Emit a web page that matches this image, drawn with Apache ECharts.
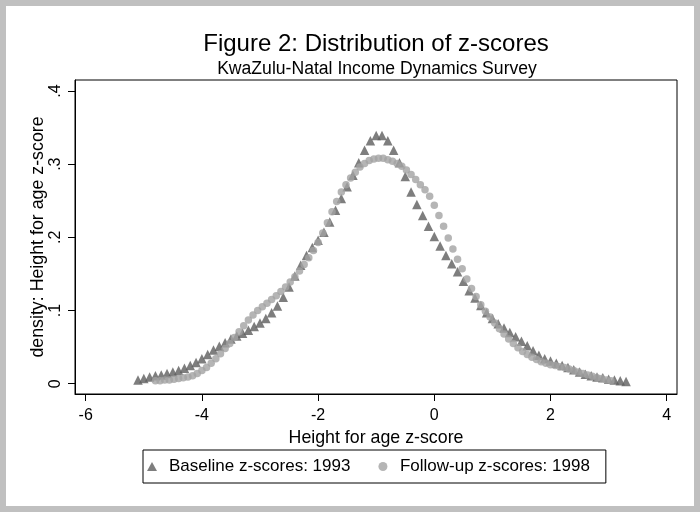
<!DOCTYPE html>
<html>
<head>
<meta charset="utf-8">
<script src="https://cdn.jsdelivr.net/npm/echarts@6/dist/echarts.min.js"></script>
<style>html,body{margin:0;padding:0;background:#fff;}#c{width:700px;height:512px;}</style>
</head>
<body>
<div id="c"></div>
<script>
// ---- data ----
var titleText = 'Figure 2: Distribution of z-scores';
var subtitleText = 'KwaZulu-Natal Income Dynamics Survey';
var xTitle = 'Height for age z-score';
var yTitle = 'density: Height for age z-score';
var seriesNames = ['Baseline z-scores: 1993', 'Follow-up z-scores: 1998'];
var xTicks = [-6, -4, -2, 0, 2, 4];
var yTicks = [0, 0.1, 0.2, 0.3, 0.4];
var yTickLabels = ['0', '.1', '.2', '.3', '.4'];

var baseX = [-5.1,-5.0,-4.9,-4.8,-4.7,-4.6,-4.5,-4.4,-4.3,-4.2,
-4.1,-4.0,-3.9,-3.8,-3.7,-3.6,-3.5,-3.4,-3.3,-3.2,
-3.1,-3.0,-2.9,-2.8,-2.7,-2.6,-2.5,-2.4,-2.3,-2.2,
-2.1,-2.0,-1.9,-1.8,-1.7,-1.6,-1.5,-1.4,-1.3,-1.2,
-1.1,-1.0,-0.9,-0.8,-0.7,-0.6,-0.5,-0.4,-0.3,-0.2,
-0.1,0.0,0.1,0.2,0.3,0.4,0.5,0.6,0.7,0.8,
0.9,1.0,1.1,1.2,1.3,1.4,1.5,1.6,1.7,1.8,
1.9,2.0,2.1,2.2,2.3,2.4,2.5,2.6,2.7,2.8,
2.9,3.0,3.1,3.2,3.3];
var baseY = [0.005,0.007,0.009,0.011,0.012,0.014,0.016,0.018,0.021,0.025,
0.029,0.034,0.040,0.046,0.051,0.056,0.061,0.065,0.069,0.073,
0.078,0.083,0.089,0.097,0.106,0.118,0.132,0.147,0.162,0.175,
0.186,0.196,0.207,0.221,0.237,0.253,0.269,0.285,0.302,0.319,
0.332,0.339,0.339,0.332,0.319,0.302,0.283,0.262,0.245,0.230,
0.215,0.201,0.188,0.175,0.164,0.153,0.140,0.127,0.117,0.107,
0.097,0.089,0.082,0.076,0.070,0.064,0.058,0.052,0.045,0.039,
0.034,0.031,0.028,0.025,0.022,0.019,0.016,0.013,0.011,0.009,
0.008,0.006,0.005,0.004,0.003];

var followX = [-4.80,-4.72,-4.64,-4.56,-4.48,-4.40,-4.32,-4.24,-4.16,-4.08,
-4.00,-3.92,-3.84,-3.76,-3.68,-3.60,-3.52,-3.44,-3.36,-3.28,
-3.20,-3.12,-3.04,-2.96,-2.88,-2.80,-2.72,-2.64,-2.56,-2.48,
-2.40,-2.32,-2.24,-2.16,-2.08,-2.00,-1.92,-1.84,-1.76,-1.68,
-1.60,-1.52,-1.44,-1.36,-1.28,-1.20,-1.12,-1.04,-0.96,-0.88,
-0.80,-0.72,-0.64,-0.56,-0.48,-0.40,-0.32,-0.24,-0.16,-0.08,
0.00,0.08,0.16,0.24,0.32,0.40,0.48,0.56,0.64,0.72,
0.80,0.88,0.96,1.04,1.12,1.20,1.28,1.36,1.44,1.52,
1.60,1.68,1.76,1.84,1.92,2.00,2.08,2.16,2.24,2.32,
2.40,2.48,2.56,2.64,2.72,2.80,2.88,2.96,3.04];
var followY = [0.004,0.004,0.005,0.005,0.006,0.007,0.008,0.009,0.011,0.014,
0.018,0.022,0.028,0.034,0.041,0.048,0.055,0.063,0.071,0.079,
0.087,0.094,0.100,0.105,0.110,0.115,0.120,0.126,0.132,0.139,
0.146,0.154,0.163,0.172,0.182,0.193,0.206,0.220,0.235,0.249,
0.262,0.272,0.281,0.289,0.296,0.301,0.305,0.307,0.308,0.308,
0.306,0.304,0.301,0.297,0.292,0.286,0.279,0.272,0.265,0.256,
0.244,0.230,0.215,0.199,0.184,0.170,0.157,0.143,0.130,0.119,
0.108,0.099,0.091,0.083,0.075,0.068,0.061,0.055,0.049,0.044,
0.040,0.036,0.033,0.030,0.028,0.026,0.025,0.023,0.022,0.020,
0.018,0.016,0.014,0.012,0.010,0.008,0.007,0.005,0.004];

// ---- chart ----
function pairs(xs, ys) { return xs.map(function (x, i) { return [x, ys[i]]; }); }
var FONT = '"Liberation Sans", Arial, Helvetica, sans-serif';
var chart = echarts.init(document.getElementById('c'), null, { renderer: 'canvas' });
chart.setOption({
  animation: false,
  backgroundColor: '#ffffff',
  textStyle: { fontFamily: FONT, color: '#000' },
  graphic: [{
    type: 'rect', silent: true, z: 100,
    shape: { x: 3, y: 3, width: 694, height: 506 },
    style: { fill: 'none', stroke: '#c0c0c0', lineWidth: 6 }
  }],
  title: [
    { text: titleText, left: 376, top: 32, textAlign: 'center', padding: 0,
      textStyle: { fontFamily: FONT, fontSize: 24, fontWeight: 'normal', color: '#000' } },
    { text: subtitleText, left: 377, top: 60, textAlign: 'center', padding: 0,
      textStyle: { fontFamily: FONT, fontSize: 17.6, fontWeight: 'normal', color: '#000' } }
  ],
  grid: { left: 75, top: 80, width: 602, height: 314, show: true,
          borderColor: '#000', borderWidth: 1, backgroundColor: 'transparent', containLabel: false },
  xAxis: {
    type: 'value', min: -6.184, max: 4.177,
    name: xTitle, nameLocation: 'middle', nameGap: 29,
    nameTextStyle: { fontFamily: FONT, fontSize: 17.8, color: '#000' },
    axisLine: { show: true, onZero: false, lineStyle: { color: '#000', width: 1 } },
    axisTick: { show: true, inside: false, length: 7, lineStyle: { color: '#000' }, customValues: xTicks },
    axisLabel: { show: true, margin: 14, fontSize: 16, color: '#000', fontFamily: FONT, customValues: xTicks },
    splitLine: { show: false }
  },
  yAxis: {
    type: 'value', min: -0.0141, max: 0.415,
    name: yTitle, nameLocation: 'middle', nameGap: 28, nameRotate: 90, nameMoveOverlap: false,
    nameTextStyle: { fontFamily: FONT, fontSize: 17.8, color: '#000' },
    axisLine: { show: true, onZero: false, lineStyle: { color: '#000', width: 1 } },
    axisTick: { show: true, inside: false, length: 7, lineStyle: { color: '#000' }, customValues: yTicks },
    axisLabel: { show: true, margin: 11, rotate: 90, fontSize: 16, color: '#000', fontFamily: FONT,
      customValues: yTicks,
      formatter: function (v) {
        for (var i = 0; i < yTicks.length; i++) { if (Math.abs(v - yTicks[i]) < 1e-9) return yTickLabels[i]; }
        return '';
      } },
    splitLine: { show: false }
  },
  legend: {
    left: 143, top: 450, orient: 'horizontal',
    padding: [8, 16, 8, 4], itemGap: 28,
    itemWidth: 10, itemHeight: 9,
    borderColor: '#000', borderWidth: 1, backgroundColor: '#fff',
    textStyle: { fontFamily: FONT, fontSize: 17, color: '#000', padding: [0, 0, 0, 7] },
    data: [{ name: seriesNames[0], icon: 'triangle' }, { name: seriesNames[1], icon: 'circle' }]
  },
  series: [
    { name: seriesNames[0], type: 'scatter', symbol: 'triangle', symbolSize: 9.5,
      itemStyle: { color: '#5e5e5e' }, data: pairs(baseX, baseY), z: 2 },
    { name: seriesNames[1], type: 'scatter', symbol: 'circle', symbolSize: 7.5,
      itemStyle: { color: '#a3a3a3' }, data: pairs(followX, followY), z: 3 }
  ]
});
</script>
</body>
</html>
